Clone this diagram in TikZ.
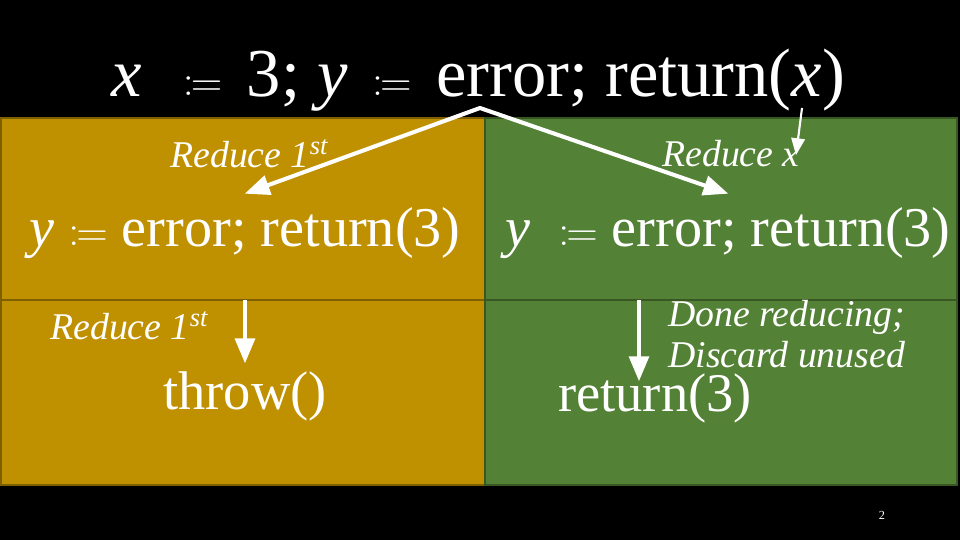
\documentclass[tikz,border=0pt]{standalone}
\usepackage{fontspec}
\usepackage{mathtools}
\setmainfont{Liberation Serif}
\usetikzlibrary{arrows, positioning}
\definecolor{gold}{HTML}{BF9000}
\definecolor{golddark}{HTML}{7F6000}
\definecolor{grass}{HTML}{538135}
\definecolor{grassdark}{HTML}{385723}
\tikzstyle{panelgold} = [fill=gold, draw=golddark, line width=1pt]
\tikzstyle{panelgreen} = [fill=grass, draw=grassdark, line width=1pt]
\tikzstyle{expr} = [text=white, inner sep=0pt, anchor=base, font=\fontsize{32}{36}\selectfont]
\tikzstyle{bigexpr} = [expr, font=\fontsize{39}{43}\selectfont]
\tikzstyle{endexpr} = [expr, font=\fontsize{31}{35}\selectfont]
\tikzstyle{note} = [text=white, inner sep=0pt, anchor=base west, font=\fontsize{21.5}{25}\selectfont\itshape]
\tikzstyle{reduce} = [draw=white, line width=2.3pt, line join=round, >=triangle 45]
\tikzstyle{pointer} = [draw=white, line width=1.2pt, >=triangle 45]

\begin{document}
\begin{tikzpicture}[x=0.02cm, y=-0.02cm]
	\useasboundingbox[fill=black] (0,0) rectangle (960,540);
	% panels
	\draw[panelgold] (1,118) rectangle (485,300);
	\draw[panelgold] (1,300) rectangle (485,485);
	\draw[panelgreen] (485,118) rectangle (957,300);
	\draw[panelgreen] (485,300) rectangle (957,485);
	% expressions
	\node[bigexpr] (start) at (478,97) {\textit{x}\ \ \(\,\coloneqq\,\) 3; \textit{y} \(\,\coloneqq\,\) error; return(\textit{x})};
	\node[expr] (lmid) at (245,247) {\textit{y} \(\coloneqq\) error; return(3)};
	\node[expr] (rmid) at (728,247) {\textit{y}\ \ \(\coloneqq\) error; return(3)};
	\node[endexpr] (throw) at (245,410) {throw()};
	\node[endexpr] (ret) at (655,412) {return(3)};
	% labels
	\node[note] (redl) at (170,168) {Reduce 1\textsuperscript{st}};
	\node[note] (redb) at (50,340) {Reduce 1\textsuperscript{st}};
	\node[note] (redx) at (662,167) {Reduce x};
	\node[note] (done) at (668,327) {Done reducing;};
	\node[note] (disc) at (668,368) {Discard unused};
	\node[text=white, font=\fontsize{7}{8}\selectfont] (page) at (882,515) {2};
	% arrows
	\coordinate (fork) at (480,108);
	\coordinate (ldrop) at (245,300);
	\coordinate (rdrop) at (639,300);
	\coordinate (xfrom) at (802,108);
	\coordinate (xto) at (796,155);
	\draw[reduce, <->] ([yshift=8pt]lmid.north) -- (fork) -- ([yshift=8pt]rmid.north);
	\draw[reduce, ->] (ldrop) -- ([yshift=5pt]throw.north);
	\draw[reduce, ->] (rdrop) -- ([yshift=-4pt]rdrop |- ret.north);
	\draw[pointer, ->] (xfrom) -- (xto);
\end{tikzpicture}
\end{document}
